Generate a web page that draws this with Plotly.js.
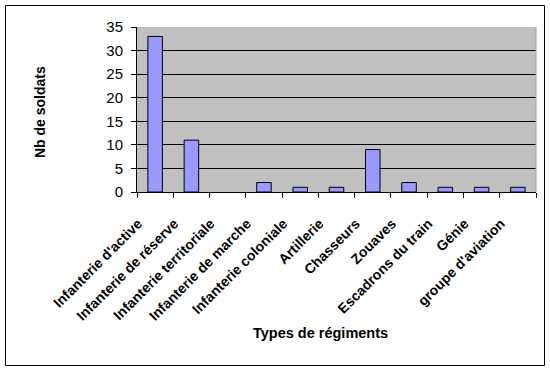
<!DOCTYPE html>
<html>
<head>
<meta charset="utf-8">
<script src="https://cdn.plot.ly/plotly-3.0.1.min.js"></script>
<style>
html,body{margin:0;padding:0;background:#fff;}
#chart{width:550px;height:370px;}
</style>
</head>
<body>
<div id="chart"></div>
<script>
const categories = ["Infanterie d'active", "Infanterie de réserve", "Infanterie territoriale", "Infanterie de marche", "Infanterie coloniale", "Artillerie", "Chasseurs", "Zouaves", "Escadrons du train", "Génie", "groupe d'aviation"];
const soldats = [33, 11, 0, 2, 1, 1, 9, 2, 1, 1, 1];
const yTicks = [0, 5, 10, 15, 20, 25, 30, 35];

const L = 137, R = 14, T = 27, B = 178;
const W = 550, H = 370;
const pw = W - L - R, ph = H - T - B;
const px = v => (v - L) / pw;
const py = v => (H - B - v) / ph;
const FONT = 'Arial, "Liberation Sans", sans-serif';

const trace = {
  type: 'bar',
  x: categories,
  y: soldats,
  marker: {color: '#9999FF', line: {color: '#000000', width: soldats.map(v => v > 0 ? 1 : 0)}},
  hoverinfo: 'x+y'
};

const layout = {
  width: W, height: H,
  margin: {l: L, r: R, t: T, b: B, pad: 0},
  paper_bgcolor: '#ffffff',
  plot_bgcolor: '#C0C0C0',
  bargap: 0.6,
  showlegend: false,
  font: {family: FONT, color: '#000'},
  xaxis: {
    type: 'category',
    tickangle: -45,
    tickson: 'boundaries',
    ticks: 'outside',
    ticklen: 5,
    tickcolor: '#000',
    showline: true,
    linecolor: '#000',
    linewidth: 1,
    showgrid: false,
    tickfont: {size: 14, family: FONT, color: '#000', weight: 'bold'},
    ticklabelshift: -17,
    ticklabelstandoff: 17,
    automargin: false
  },
  yaxis: {
    range: [0, 35],
    tickvals: yTicks,
    ticktext: yTicks.map(String),
    ticks: 'outside',
    ticklen: 5,
    tickcolor: '#000',
    showline: true,
    linecolor: '#000',
    linewidth: 1,
    showgrid: true,
    gridcolor: '#000',
    gridwidth: 1,
    zeroline: false,
    tickfont: {size: 15, family: FONT, color: '#000'},
    ticklabelstandoff: 5,
    automargin: false
  },
  annotations: [
    {text: '<b>Nb de soldats</b>', xref: 'paper', yref: 'paper', x: px(30), y: py(112), showarrow: false, textangle: -90, font: {size: 14, family: FONT, color: '#000'}},
    {text: '<b>Types de régiments</b>', xref: 'paper', yref: 'paper', x: px(320), y: py(343), showarrow: false, font: {size: 14.5, family: FONT, color: '#000'}}
  ],
  shapes: [
    {type: 'rect', xref: 'paper', yref: 'paper', x0: px(5.5), x1: px(544.5), y0: py(365.5), y1: py(5.5), line: {color: '#000', width: 1}, layer: 'above'},
    {type: 'line', xref: 'paper', yref: 'paper', x0: 1, x1: 1, y0: 0, y1: 1, line: {color: '#a0a0a0', width: 1}}
  ]
};

Plotly.newPlot('chart', [trace], layout, {displayModeBar: false, staticPlot: true});
</script>
</body>
</html>
